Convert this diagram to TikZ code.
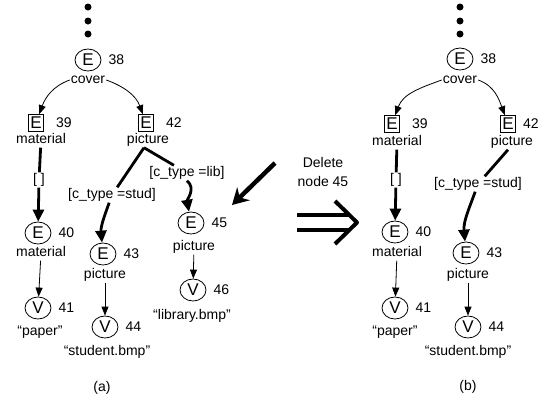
\documentclass[tikz,border=0pt]{standalone}
\usepackage{fontspec}
\setmainfont{Liberation Sans}
\usetikzlibrary{arrows.meta,positioning,shapes.geometric}
\newcommand{\ctype}[1]{[c\_type =#1]}

\begin{document}
\begin{tikzpicture}[x=1pt,y=1pt,font=\fontsize{14}{19}\selectfont]
\tikzstyle{enode}=[draw,line width=0.8pt,ellipse,minimum width=26pt,minimum height=22pt,inner sep=0pt,font=\fontsize{17}{17}\selectfont]
\tikzstyle{ebox}=[draw,line width=0.8pt,rectangle,minimum width=15pt,minimum height=17pt,inner sep=0pt,font=\fontsize{17}{17}\selectfont]
\tikzstyle{num}=[inner sep=0pt]
\tikzstyle{tag}=[inner sep=1pt,text height=10pt,text depth=3pt]
\tikzstyle{cond}=[inner sep=1pt,text height=10pt,text depth=3pt]
\tikzstyle{thin edge}=[line width=0.8pt,-{Triangle[length=9pt,width=7pt]}]
\tikzstyle{bold edge}=[line width=2.8pt]
\tikzstyle{bold arrow}=[line width=2.8pt,-{Triangle[length=12pt,width=11pt]}]

\useasboundingbox (0,0) rectangle (542,-400);

% (a) before
\foreach \y in {7,21,34} \fill (88,-\y) circle (3.5pt);
\node[enode] (e38) at (88,-60) {E};
\node[num,right=7pt of e38] {38};
\node[tag] (t38) at (88,-80) {cover};

\node[ebox] (e39) at (36,-123) {E};
\node[num,right=12pt of e39] {39};
\node[tag] (t39) at (41,-140) {material};

\node[ebox] (e42) at (146,-123) {E};
\node[num,right=12pt of e42] {42};
\node[tag] (t42) at (148,-140) {picture};

\node[cond] (c40) at (39,-180) {[\ ]};
\node[enode] (e40) at (38,-233) {E};
\node[num,right=7pt of e40] {40};
\node[tag] (t40) at (41,-253) {material};

\node[enode] (v41) at (38,-308) {V};
\node[num,right=7pt of v41] {41};
\node[tag] (t41) at (40,-332) {``paper''};

\node[cond] (c43) at (112,-195) {\ctype{stud}};
\node[enode] (e43) at (103,-254) {E};
\node[num,right=7pt of e43] {43};
\node[tag] (t43) at (105,-275) {picture};

\node[enode] (v44) at (105,-327) {V};
\node[num,right=7pt of v44] {44};
\node[tag] (t44) at (107,-352) {``student.bmp''};

\node[cond] (c45) at (187,-173) {\ctype{lib}};
\node[enode] (e45) at (191,-223) {E};
\node[num,right=7pt of e45] {45};
\node[tag] (t45) at (194,-247) {picture};

\node[enode] (v46) at (193,-290) {V};
\node[num,right=7pt of v46] {46};
\node[tag] (t46) at (192,-316) {``library.bmp''};

\node (capa) at (102,-388) {(a)};

\draw[thin edge] (t38.west) to[out=200,in=70] (e39);
\draw[thin edge] (t38.east) to[out=-20,in=110] (e42);
\draw[bold edge] (t39) -- (c40);
\draw[bold arrow] (c40) -- (e40);
\draw[thin edge] (t40) -- (v41);
\draw[bold edge] ([xshift=-4pt]t42.south) -- (c43);
\draw[bold edge] ([xshift=-4pt]t42.south) -- (c45);
\draw[bold arrow] (c43) to[out=-110,in=95] (e43);
\draw[bold arrow] (c45.south) to[out=-40,in=100] (e45);
\draw[thin edge] (t43) -- (v44);
\draw[thin edge] (t45) -- (v46);

% delete step
\coordinate (ptr tail) at (275,-163);
\coordinate (ptr head) at (232,-205);
\draw[line width=4.5pt,-{Stealth[length=16pt,width=18pt]}] (ptr tail) -- (ptr head);
\node[align=center] (del) at (323,-172) {Delete\\node 45};
\draw[line width=4pt] (297,-215) -- (350,-215) (297,-230) -- (350,-230);
\draw[line width=4pt,line join=round] (335,-201) -- (357,-222.5) -- (335,-244);

% (b) after
\foreach \y in {7,21,34} \fill (460,-\y) circle (3.5pt);
\node[enode] (e38r) at (460,-59) {E};
\node[num,right=7pt of e38r] {38};
\node[tag] (t38r) at (460,-80) {cover};

\node[ebox] (e39r) at (392,-124) {E};
\node[num,right=12pt of e39r] {39};
\node[tag] (t39r) at (397,-142) {material};

\node[ebox] (e42r) at (508,-124) {E};
\node[num,right=7pt of e42r] {42};
\node[tag] (t42r) at (512,-142) {picture};

\node[cond] (c40r) at (396,-180) {[\ ]};
\node[enode] (e40r) at (395,-232) {E};
\node[num,right=7pt of e40r] {40};
\node[tag] (t40r) at (397,-253) {material};

\node[enode] (v41r) at (395,-308) {V};
\node[num,right=7pt of v41r] {41};
\node[tag] (t41r) at (395,-332) {``paper''};

\node[cond] (c43r) at (478,-184) {\ctype{stud}};
\node[enode] (e43r) at (466,-253) {E};
\node[num,right=7pt of e43r] {43};
\node[tag] (t43r) at (468,-275) {picture};

\node[enode] (v44r) at (468,-327) {V};
\node[num,right=7pt of v44r] {44};
\node[tag] (t44r) at (468,-352) {``student.bmp''};

\node (capb) at (468,-387) {(b)};

\draw[thin edge] (t38r.west) to[out=200,in=70] (e39r);
\draw[thin edge] (t38r.east) to[out=-20,in=110] (e42r);
\draw[bold edge] (t39r) -- (c40r);
\draw[bold arrow] (c40r) -- (e40r);
\draw[thin edge] (t40r) -- (v41r);
\draw[bold edge] ([xshift=-4pt]t42r.south) -- (c43r);
\draw[bold arrow] (c43r) to[out=-110,in=95] (e43r);
\draw[thin edge] (t43r) -- (v44r);
\end{tikzpicture}
\end{document}
